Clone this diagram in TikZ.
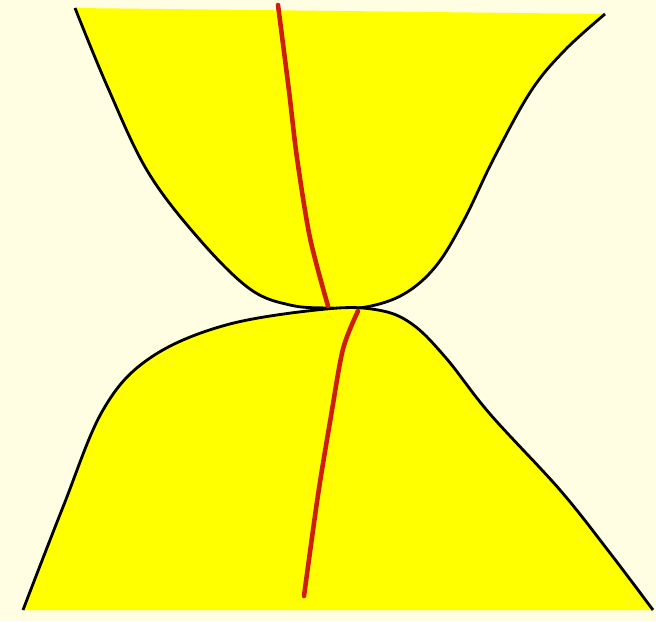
\documentclass[tikz,border=0pt]{standalone}
\usepackage{tikz}
\definecolor{paper}{RGB}{255,253,226}
\definecolor{lensyellow}{RGB}{255,255,0}
\definecolor{rayred}{RGB}{205,30,10}
\tikzset{
  surface/.style={fill=lensyellow,draw=none},
  outline/.style={draw=black,line width=1.6pt,line join=round},
  ray/.style={draw=rayred,line width=2.6pt,line cap=round}
}
\begin{document}
\begin{tikzpicture}[x=0.2mm,y=-0.2mm]
  \fill[paper] (0,0) rectangle (656,621);
  \useasboundingbox (0,0) rectangle (656,621);
  % upper medium
  \path[surface] plot[smooth,tension=0.6] coordinates {(75,8) (108,88) (148,172) (200,240) (250,289) (290,305) (328,308) (366,307) (404,294) (436,266) (464,220) (494,158) (531,91) (565,50) (605,14)} -- cycle;
  \draw[outline] plot[smooth,tension=0.6] coordinates {(75,8) (108,88) (148,172) (200,240) (250,289) (290,305) (328,308) (366,307) (404,294) (436,266) (464,220) (494,158) (531,91) (565,50) (605,14)};
  % lower medium
  \path[surface] plot[smooth,tension=0.6] coordinates {(23,610) (63,507) (103,410) (150,358) (226,325) (326,309) (378,310) (412,324) (446,358) (490,414) (560,490) (610,553) (653,610)} -- cycle;
  \draw[outline] plot[smooth,tension=0.6] coordinates {(23,610) (63,507) (103,410) (150,358) (226,325) (326,309) (378,310) (412,324) (446,358) (490,414) (560,490) (610,553) (653,610)};
  % ray
  \draw[ray] plot[smooth] coordinates {(278,5) (289,91) (297,158) (310,238) (328,306)};
  \draw[ray] plot[smooth] coordinates {(358,311) (343,349) (331,416) (318,495) (304,596)};
\end{tikzpicture}
\end{document}
